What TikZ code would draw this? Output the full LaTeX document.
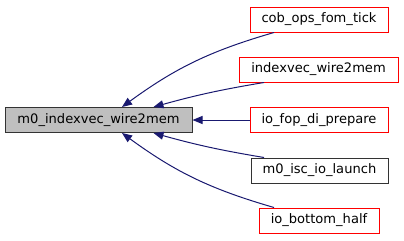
\documentclass[tikz,border=0pt]{standalone}
\usepackage{fontspec}
\setmainfont{DejaVu Sans}
\usetikzlibrary{arrows.meta, calc}
\definecolor{edgeblue}{HTML}{191970}
\definecolor{nodegray}{HTML}{BFBFBF}
\tikzset{
	fnbox/.style={draw, line width=0.75pt, minimum height=18.75pt, inner sep=0pt,
		font=\fontsize{9.8}{12}\selectfont}
}
\tikzset{
	callerbox/.style={fnbox, draw=red},
	plainbox/.style={fnbox, draw=black!80},
	mainbox/.style={fnbox, draw=black!80, fill=nodegray},
	calls/.style={->, line width=0.75pt, edgeblue}
}

\begin{document}
\begin{tikzpicture}[x=0.75pt, y=0.75pt, >={Triangle[length=7.5pt, width=6pt]}]
      \useasboundingbox (0,0) rectangle (404,240);
      \node[mainbox, minimum width=140.25pt] (main) at (98.5,120) {m0\_indexvec\_wire2mem};
      % callers
      \node[callerbox, minimum width=103.5pt] (cob) at (319,220.5) {cob\_ops\_fom\_tick};
      \node[callerbox, minimum width=119.25pt] (ixw) at (318.5,170.5) {indexvec\_wire2mem};
      \node[callerbox, minimum width=103.5pt] (fop) at (319,120) {io\_fop\_di\_prepare};
      \node[plainbox, minimum width=102.75pt] (isc) at (319.5,69.5) {m0\_isc\_io\_launch};
      \node[callerbox, minimum width=90pt] (bhf) at (319,19.5) {io\_bottom\_half};
      % edges
      \draw[calls] ($(cob.south)+(-45,0)$) to[bend right=10] ($(main.north)+(23.5,0)$);
      \draw[calls] ($(ixw.south)+(-54.5,0)$) to[bend right=3] ($(main.north)+(55,0)$);
      \draw[calls] (fop.west) -- (main.east);
      \draw[calls] ($(isc.north)+(-55.5,0)$) to[bend left=3] ($(main.south)+(55,0)$);
      \draw[calls] ($(bhf.north)+(-45,0)$) to[bend left=10] ($(main.south)+(23.5,0)$);
    \end{tikzpicture}
\end{document}
